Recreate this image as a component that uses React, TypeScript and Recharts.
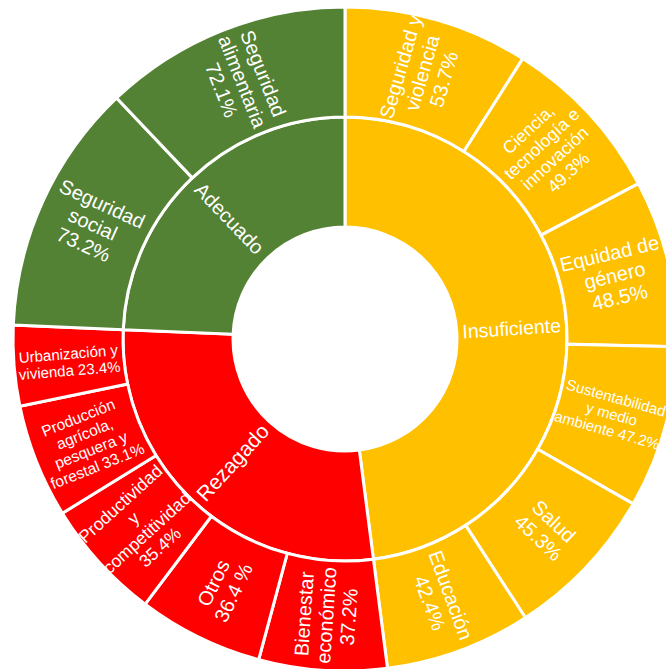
import React from "react";
import { PieChart, Pie, Cell } from "recharts";

// inner ring
const categories = ["Insuficiente", "Rezagado", "Adecuado"];

// outer ring, clockwise from the top, grouped by category
const insuficienteLabels = [
  "Seguridad y\nviolencia\n53.7%",
  "Ciencia,\ntecnología e\ninnovación\n49.3%",
  "Equidad de\ngénero\n48.5%",
  "Sustentabilidad\ny medio\nambiente 47.2%",
  "Salud\n45.3%",
  "Educación\n42.4%",
];
const insuficienteValues = [53.7, 49.3, 48.5, 47.2, 45.3, 42.4];

const rezagadoLabels = [
  "Bienestar\neconómico\n37.2%",
  "Otros\n36.4 %",
  "Productividad\ny\ncompetitividad\n35.4%",
  "Producción\nagrícola,\npesquera y\nforestal 33.1%",
  "Urbanización y\nvivienda 23.4%",
];
const rezagadoValues = [37.2, 36.4, 35.4, 33.1, 23.4];

const adecuadoLabels = ["Seguridad\nsocial\n73.2%", "Seguridad\nalimentaria\n72.1%"];
const adecuadoValues = [73.2, 72.1];

const groupLabels = [insuficienteLabels, rezagadoLabels, adecuadoLabels];
const groupValues = [insuficienteValues, rezagadoValues, adecuadoValues];

const COLORS = ["#FFC000", "#FF0000", "#548235"];
const INNER_FONT = [19.5, 21, 20];
const OUTER_FONT: Record<string, number> = {
  "Ciencia,\ntecnología e\ninnovación\n49.3%": 17.5,
  "Sustentabilidad\ny medio\nambiente 47.2%": 15,
  "Productividad\ny\ncompetitividad\n35.4%": 17.5,
  "Producción\nagrícola,\npesquera y\nforestal 33.1%": 15.5,
  "Urbanización y\nvivienda 23.4%": 15,
};

const innerData = categories.map((name, i) => ({
  name,
  value: groupValues[i].reduce((a, b) => a + b, 0),
  group: i,
}));
const outerData = groupLabels.flatMap((labels, g) =>
  labels.map((name, j) => ({ name, value: groupValues[g][j], group: g }))
);

const CX = 345;
const CY = 339;
const R0 = 112;
const R1 = 222;
const R2 = 332;
const RAD = Math.PI / 180;

function makeLabel(radius: number, sizeOf: (name: string, index: number) => number) {
  return (props: any) => {
    const { midAngle, index, name } = props;
    const x = CX + radius * Math.cos(-midAngle * RAD);
    const y = CY + radius * Math.sin(-midAngle * RAD);
    const theta = (((90 - midAngle) % 360) + 360) % 360;
    const rot = theta < 180 ? theta - 90 : theta - 270;
    const lines = String(name).split("\n");
    const fs = sizeOf(name, index);
    const lh = fs * 1.12;
    return (
      <text
        key={`l-${index}`}
        x={x}
        y={y}
        fill="#fff"
        fontSize={fs}
        fontFamily="'Liberation Sans', Arial, sans-serif"
        textAnchor="middle"
        dominantBaseline="central"
        transform={`rotate(${rot}, ${x}, ${y})`}
      >
        {lines.map((ln, k) => (
          <tspan key={k} x={x} dy={k === 0 ? (-(lines.length - 1) / 2) * lh : lh}>
            {ln}
          </tspan>
        ))}
      </text>
    );
  };
}

export default function App() {
  return (
    <div style={{ position: "fixed", left: 0, top: 0, width: 666, height: 669, background: "#fff" }}>
      <PieChart width={666} height={669} margin={{ top: 0, right: 0, bottom: 0, left: 0 }}>
        <Pie
          data={innerData}
          dataKey="value"
          cx={CX}
          cy={CY}
          innerRadius={R0}
          outerRadius={R1}
          startAngle={90}
          endAngle={-270}
          stroke="#fff"
          strokeWidth={3}
          labelLine={false}
          label={makeLabel((R0 + R1) / 2, (_n, i) => INNER_FONT[i])}
          isAnimationActive={false}
        >
          {innerData.map((d, i) => (
            <Cell key={i} fill={COLORS[d.group]} />
          ))}
        </Pie>
        <Pie
          data={outerData}
          dataKey="value"
          cx={CX}
          cy={CY}
          innerRadius={R1}
          outerRadius={R2}
          startAngle={90}
          endAngle={-270}
          stroke="#fff"
          strokeWidth={3}
          labelLine={false}
          label={makeLabel((R1 + R2) / 2, (n) => OUTER_FONT[n] ?? 20)}
          isAnimationActive={false}
        >
          {outerData.map((d, i) => (
            <Cell key={i} fill={COLORS[d.group]} />
          ))}
        </Pie>
      </PieChart>
    </div>
  );
}
